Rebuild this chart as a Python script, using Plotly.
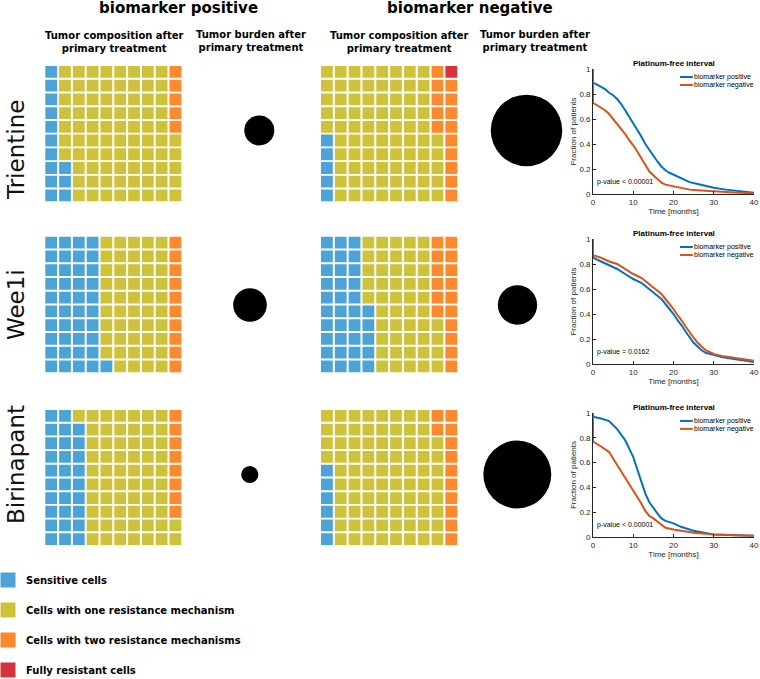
import plotly.graph_objects as go

W, H = 760, 679

# ---------------- data ----------------
drugs = ["Trientine", "Wee1i", "Birinapant"]
groups = ["biomarker positive", "biomarker negative"]
cell_types = ["Sensitive cells", "Cells with one resistance mechanism",
              "Cells with two resistance mechanisms", "Fully resistant cells"]

# number of cells (out of 100) after primary treatment, per drug
sensitive_pos = [13, 41, 29]
one_mech_pos = [82, 49, 63]
two_mech_pos = [5, 10, 8]
full_res_pos = [0, 0, 0]
sensitive_neg = [5, 35, 6]
one_mech_neg = [80, 49, 82]
two_mech_neg = [14, 16, 12]
full_res_neg = [1, 0, 0]

# relative tumor burden after primary treatment (relative diameter)
burden_pos = [0.42, 0.47, 0.24]
burden_neg = [1.00, 0.55, 0.95]

# Platinum-free interval (Kaplan-Meier), time in months / fraction of patients
km_time_tri_pos = [0, 0, 1, 2, 3, 4, 5, 6, 7, 8, 9, 10, 11, 12, 13, 14, 15, 16, 17, 18, 19, 20, 22, 24, 26, 28, 30, 33, 36, 40]
km_surv_tri_pos = [1, .89, .875, .86, .84, .81, .79, .76, .72, .67, .62, .57, .52, .46, .40, .35, .31, .26, .22, .19, .17, .155, .12, .095, .08, .065, .05, .035, .025, .01]
km_time_tri_neg = [0, 0, 1, 2, 3, 4, 5, 6, 7, 8, 9, 10, 11, 12, 13, 14, 15, 16, 17, 18, 20, 22, 24, 26, 30, 35, 40]
km_surv_tri_neg = [1, .73, .71, .69, .67, .64, .60, .56, .52, .48, .43, .39, .34, .29, .23, .18, .15, .12, .09, .075, .06, .045, .035, .03, .02, .012, .005]

km_time_wee_pos = [0, 0, 2, 4, 6, 8, 10, 12, 14, 16, 17, 18, 19, 20, 21, 22, 23, 24, 25, 26, 27, 28, 30, 32, 35, 38, 40]
km_surv_wee_pos = [1, .85, .82, .79, .76, .72, .68, .65, .60, .55, .52, .48, .44, .40, .35, .31, .26, .21, .17, .14, .11, .09, .07, .055, .04, .025, .015]
km_time_wee_neg = [0, 0, 2, 4, 6, 8, 10, 12, 14, 16, 17, 18, 19, 20, 21, 22, 23, 24, 25, 26, 27, 28, 30, 32, 35, 38, 40]
km_surv_wee_neg = [1, .87, .85, .82, .80, .76, .72, .69, .64, .59, .56, .52, .48, .44, .39, .35, .30, .25, .21, .17, .14, .11, .08, .065, .05, .035, .025]

km_time_bir_pos = [0, 0, 2, 4, 6, 8, 10, 11, 12, 13, 14, 15, 16, 17, 18, 20, 22, 25, 28, 30, 35, 40]
km_surv_bir_pos = [1, .97, .955, .935, .87, .78, .645, .54, .44, .35, .28, .23, .19, .15, .13, .11, .08, .05, .03, .02, .015, .01]
km_time_bir_neg = [0, 0, 2, 4, 6, 8, 10, 12, 13, 14, 15, 17, 18, 20, 25, 30, 40]
km_surv_bir_neg = [1, .77, .73, .685, .58, .48, .38, .27, .21, .17, .15, .10, .075, .06, .035, .02, .01]

p_values = ["p-value < 0.00001", "p-value = 0.0162", "p-value < 0.00001"]

x_ticks_km = [0, 10, 20, 30, 40]
y_ticks_km = [0, 0.2, 0.4, 0.6, 0.8, 1]

# ---------------- styles ----------------
cell_colors = ["#4DA3D6", "#CFC23B", "#FC8A2C", "#D7333C"]
km_colors = ["#0072BD", "#D95319"]
HEAD = "DejaVu Sans"
KMF = "Liberation Sans"
AX = "#262626"

km_sets = [
    [(km_time_tri_pos, km_surv_tri_pos), (km_time_tri_neg, km_surv_tri_neg)],
    [(km_time_wee_pos, km_surv_wee_pos), (km_time_wee_neg, km_surv_wee_neg)],
    [(km_time_bir_pos, km_surv_bir_pos), (km_time_bir_neg, km_surv_bir_neg)],
]
counts_pos = list(zip(sensitive_pos, one_mech_pos, two_mech_pos, full_res_pos))
counts_neg = list(zip(sensitive_neg, one_mech_neg, two_mech_neg, full_res_neg))


def dx(a, b):
    return [a / W, b / W]


def dy(top, bottom):
    return [max(0, 1 - bottom / H), min(1, 1 - top / H)]


def names(i):
    return ("xaxis" if i == 1 else f"xaxis{i}", "yaxis" if i == 1 else f"yaxis{i}",
            "x" if i == 1 else f"x{i}", "y" if i == 1 else f"y{i}")


def waffle_cells(counts):
    n_s, n_1, n_2, n_f = counts
    bottom_up = [(c, r) for c in range(1, 11) for r in range(1, 11)]
    top_down = [(c, r) for c in range(10, 0, -1) for r in range(10, 0, -1)]
    kind = {}
    for cell in top_down[:n_f]:
        kind[cell] = 3
    for cell in top_down[n_f:n_f + n_2]:
        kind[cell] = 2
    for cell in bottom_up[:n_s]:
        kind[cell] = 0
    for cell in bottom_up:
        kind.setdefault(cell, 1)
    return kind


fig = go.Figure()
layout = dict(width=W, height=H, margin=dict(l=0, r=0, t=0, b=0, autoexpand=False),
              paper_bgcolor="white", plot_bgcolor="rgba(0,0,0,0)",
              showlegend=False, annotations=[], shapes=[])
hidden = dict(visible=False, showgrid=False, zeroline=False, fixedrange=True, automargin=False)

row_y = [(65, 202.3), (235.7, 373.3), (409, 546)]
waffle_x = [(44.3, 182.3), (320, 458.2)]
circle_cx = [(259.3, 526.5), (250, 517.5), (249.8, 517.3)]
circle_cy = [130.4, 305, 474.5]
km_y = [(69, 194), (239, 364), (413, 537)]
km_x = (593, 754)
MAXD = 71.5

idx = 0
# waffles
for r in range(3):
    for g, counts in enumerate([counts_pos[r], counts_neg[r]]):
        idx += 1
        xa, ya, xr, yr = names(idx)
        layout[xa] = dict(hidden, domain=dx(*waffle_x[g]), range=[0.5, 10.5], anchor=yr)
        layout[ya] = dict(hidden, domain=dy(*row_y[r]), range=[0.5, 10.5], anchor=xr)
        kind = waffle_cells(counts)
        for k in range(4):
            cells = [c for c, v in kind.items() if v == k]
            if not cells:
                continue
            fig.add_trace(go.Scatter(
                x=[c[0] for c in cells], y=[c[1] for c in cells], mode="markers",
                marker=dict(symbol="square", size=11.8, color=cell_colors[k], opacity=1,
                            line=dict(width=0)),
                name=cell_types[k], xaxis=xr, yaxis=yr, hoverinfo="name"))

# tumor burden circles
for r in range(3):
    idx += 1
    xa, ya, xr, yr = names(idx)
    half = (circle_cx[r][1] - circle_cx[r][0]) / 2
    layout[xa] = dict(hidden, type="category", categoryarray=groups, range=[-0.5, 1.5],
                      domain=dx(circle_cx[r][0] - half, circle_cx[r][1] + half), anchor=yr)
    layout[ya] = dict(hidden, type="category", range=[-0.5, 0.5],
                      domain=dy(circle_cy[r] - 40, circle_cy[r] + 40), anchor=xr)
    fig.add_trace(go.Scatter(
        x=groups, y=[drugs[r], drugs[r]], mode="markers",
        marker=dict(symbol="circle", color="black", opacity=1, line=dict(width=0),
                    size=[burden_pos[r] * MAXD, burden_neg[r] * MAXD]),
        xaxis=xr, yaxis=yr, hoverinfo="x+y"))

# KM plots
for r in range(3):
    idx += 1
    xa, ya, xr, yr = names(idx)
    tick = dict(ticks="inside", ticklen=3, tickwidth=0.7, tickcolor=AX, showline=True,
                linecolor=AX, linewidth=0.8, showgrid=False, zeroline=False, automargin=False,
                tickfont=dict(family=KMF, size=8, color=AX), fixedrange=True)
    layout[xa] = dict(tick, domain=dx(*km_x), range=[0, 40], tickvals=x_ticks_km, anchor=yr,
                      title=dict(text="Time [months]", font=dict(family=KMF, size=8, color=AX), standoff=2))
    layout[ya] = dict(tick, domain=dy(*km_y[r]), range=[0, 1], tickvals=y_ticks_km, anchor=xr,
                      title=dict(text="Fraction of patients", font=dict(family=KMF, size=8, color=AX), standoff=1))
    for g, (t, s) in enumerate(km_sets[r]):
        fig.add_trace(go.Scatter(x=t, y=s, mode="lines", name=groups[g],
                                 line=dict(color=km_colors[g], width=2),
                                 xaxis=xr, yaxis=yr))
    layout["annotations"].append(dict(
        text="<b>Platinum-free interval</b>", xref=f"{xr} domain", yref=f"{yr} domain",
        x=0.5, y=1, yanchor="middle", yshift=5.5, showarrow=False,
        font=dict(family=KMF, size=8, color="black")))
    layout["annotations"].append(dict(
        text=p_values[r], xref=xr, yref=yr, x=0.5, y=0.1, xanchor="left", yanchor="middle",
        showarrow=False, font=dict(family=KMF, size=7, color="black")))
    for g in range(2):
        yy = 1 - (8 + 8 * g) / 125
        layout["shapes"].append(dict(
            type="line", xref=f"{xr} domain", yref=f"{yr} domain",
            x0=0.54, x1=0.62, y0=yy, y1=yy, line=dict(color=km_colors[g], width=2)))
        layout["annotations"].append(dict(
            text=groups[g], xref=f"{xr} domain", yref=f"{yr} domain",
            x=0.615, y=yy, xanchor="left", yanchor="middle", showarrow=False,
            font=dict(family=KMF, size=7, color="black")))

# cell type key
idx += 1
xa, ya, xr, yr = names(idx)
layout[xa] = dict(hidden, domain=dx(0, 16), range=[-0.5, 0.5], anchor=yr)
layout[ya] = dict(hidden, type="category", categoryarray=cell_types, range=[3.3, -0.5],
                  domain=dy(565, 679), anchor=xr)
fig.add_trace(go.Scatter(
    x=[0] * len(cell_types), y=cell_types, mode="markers",
    marker=dict(symbol="square", size=15, color=cell_colors, opacity=1, line=dict(width=0)),
    xaxis=xr, yaxis=yr, hoverinfo="y"))
for i, ct in enumerate(cell_types):
    layout["annotations"].append(dict(
        text=f"<b>{ct}</b>", xref="paper", yref=yr, x=24 / W, y=i, xanchor="left",
        yanchor="middle", showarrow=False, font=dict(family=HEAD, size=10, color="black")))

# headers
for g, cx in enumerate([178, 470]):
    layout["annotations"].append(dict(
        text=f"<b>{groups[g]}</b>", xref="paper", yref="paper", x=cx / W, y=1 - 8 / H,
        xanchor="center", yanchor="middle", showarrow=False,
        font=dict(family=HEAD, size=15, color="black")))
for cx in [114, 399]:
    layout["annotations"].append(dict(
        text="<b>Tumor composition after<br>primary treatment</b>", xref="paper", yref="paper",
        x=cx / W, y=1 - 42 / H, xanchor="center", yanchor="middle", showarrow=False,
        font=dict(family=HEAD, size=10, color="black")))
for cx in [251, 535]:
    layout["annotations"].append(dict(
        text="<b>Tumor burden after<br>primary treatment</b>", xref="paper", yref="paper",
        x=cx / W, y=1 - 40.5 / H, xanchor="center", yanchor="middle", showarrow=False,
        font=dict(family=HEAD, size=10, color="black")))

# row labels
for r, cy in enumerate([150, 305, 465]):
    layout["annotations"].append(dict(
        text=drugs[r], xref="paper", yref="paper", x=1 / W, y=1 - cy / H,
        xanchor="left", yanchor="middle", textangle=-90, showarrow=False,
        font=dict(family=HEAD, size=23, color="#111111")))

fig.update_layout(**layout)
fig.write_html("out.html", config={"displayModeBar": False},
               post_script="document.body.style.margin='0';document.body.style.overflow='hidden';")
